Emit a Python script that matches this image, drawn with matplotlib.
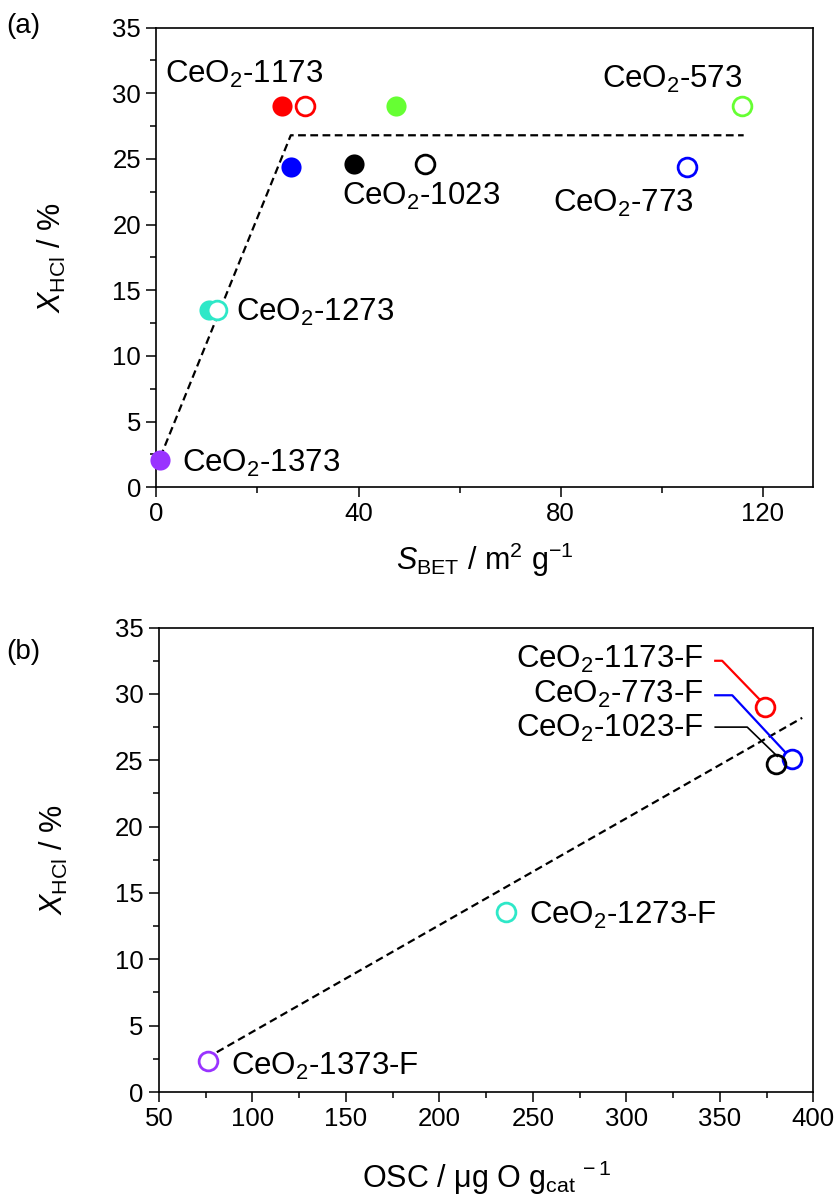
import numpy as np
import matplotlib
matplotlib.use("Agg")
import matplotlib.pyplot as plt
from matplotlib.ticker import MultipleLocator

plt.rcParams['font.family'] = ['Liberation Sans', 'DejaVu Sans']
plt.rcParams['mathtext.fontset'] = 'custom'
plt.rcParams['mathtext.rm'] = 'Liberation Sans'
plt.rcParams['mathtext.it'] = 'Liberation Sans:italic'

# ---- panel (a): conversion vs BET surface area ----
sbet_filled = [24.9, 47.4, 26.7, 39.1, 10.5, 0.7]
x_filled = [29.0, 29.0, 24.4, 24.6, 13.5, 2.1]
sbet_open = [29.5, 115.8, 105.0, 53.2, 12.0]
x_open = [29.0, 29.0, 24.4, 24.6, 13.5]
col_filled = ['#ff0000', '#66ff33', '#0000ff', '#000000', '#2ee8c8', '#9933ff']
col_open = ['#ff0000', '#66ff33', '#0000ff', '#000000', '#2ee8c8']
trend_a_x = [0.8, 26.6, 116.2]
trend_a_y = [2.3, 26.8, 26.8]
labels_a = ['1173', '1023', '573', '773', '1273', '1373']
labels_a_pos = [(1.8, 30.8), (36.8, 21.5), (88.2, 30.4), (78.5, 21.0), (15.8, 12.7), (5.0, 1.2)]

# ---- panel (b): conversion vs OSC ----
osc = [374.3, 388.7, 380.2, 235.5, 76.3]
x_osc = [29.0, 25.1, 24.7, 13.6, 2.3]
col_b = ['#ff0000', '#0000ff', '#000000', '#2ee8c8', '#9933ff']
labels_b = ['1173', '773', '1023', '1273', '1373']
trend_b_x = [81.0, 394.0]
trend_b_y = [3.0, 28.2]

fig = plt.figure(figsize=(8.36, 12), dpi=100)
ax1 = fig.add_axes([0.187, 0.594, 0.786, 0.383])
ax2 = fig.add_axes([0.190, 0.090, 0.783, 0.387])

def style(ax):
    for s in ax.spines.values():
        s.set_linewidth(1.2)
    ax.tick_params(which='both', direction='out', top=False, right=False,
                   labelsize=18.5, width=1.1, pad=4)
    ax.tick_params(which='major', length=7)
    ax.tick_params(which='minor', length=4.5)
    ax.set_ylim(0, 35)
    ax.yaxis.set_major_locator(MultipleLocator(5))
    ax.yaxis.set_minor_locator(MultipleLocator(2.5))

# panel a
ax1.plot(trend_a_x, trend_a_y, ls=(0, (3.5, 2)), color='black', lw=1.6, zorder=1)
for x, y, c in zip(sbet_filled, x_filled, col_filled):
    ax1.plot(x, y, 'o', ms=14.5, color=c, mew=0, clip_on=False, zorder=3)
for x, y, c in zip(sbet_open, x_open, col_open):
    ax1.plot(x, y, 'o', ms=13.5, mfc='white', mec=c, mew=2.0, zorder=3)
for lab, (x, y) in zip(labels_a, labels_a_pos):
    ax1.text(x, y, 'CeO$_2$-' + lab, fontsize=22.5, va='baseline', ha='left')
style(ax1)
ax1.set_xlim(0, 130)
ax1.xaxis.set_major_locator(MultipleLocator(40))
ax1.xaxis.set_minor_locator(MultipleLocator(20))
ax1.set_xlabel(r'$S_{\mathrm{BET}}$ / m$^2$ g$^{-1}$', fontsize=22, labelpad=10)
ax1.set_ylabel(r'$X_{\mathrm{HCl}}$ / %', fontsize=22, labelpad=32)
fig.text(0.008, 0.978, '(a)', fontsize=20, va='center')

# panel b
ax2.plot(trend_b_x, trend_b_y, ls=(0, (3.5, 2)), color='black', lw=1.6, zorder=1)
for x, y, c in zip(osc, x_osc, col_b):
    ax2.plot(x, y, 'o', ms=13.5, mfc='none', mec=c, mew=2.0, zorder=3)

# labels with leader lines for the crowded upper right cluster
lead_txt = [(341.2, 32.0), (341.2, 29.3), (341.2, 26.8)]
lead_lines = [
    ([347.5, 351.2, 371.1], [32.5, 32.5, 29.6]),
    ([347.5, 356.6, 385.0], [29.9, 29.9, 25.6]),
    ([347.5, 364.6, 380.7], [27.5, 27.5, 25.3]),
]
lead_lw = [1.6, 1.6, 1.2]
for i in range(3):
    lx, ly = lead_lines[i]
    ax2.plot(lx, ly, color=col_b[i], lw=lead_lw[i], zorder=2)
    ax2.text(lead_txt[i][0], lead_txt[i][1], 'CeO$_2$-' + labels_b[i] + '-F',
             fontsize=22.5, va='baseline', ha='right')
ax2.text(247.8, 12.7, 'CeO$_2$-1273-F', fontsize=22.5, va='baseline', ha='left')
ax2.text(88.6, 1.3, 'CeO$_2$-1373-F', fontsize=22.5, va='baseline', ha='left')

style(ax2)
ax2.set_xlim(50, 400)
ax2.xaxis.set_major_locator(MultipleLocator(50))
ax2.xaxis.set_minor_locator(MultipleLocator(25))
ax2.set_xlabel(r'OSC / $\mathrm{\mu}$g O g$_{\mathrm{cat}}$$^{\,-1}$', fontsize=22, labelpad=20)
ax2.set_ylabel(r'$X_{\mathrm{HCl}}$ / %', fontsize=22, labelpad=32)
fig.text(0.008, 0.457, '(b)', fontsize=20, va='center')

fig.savefig('out.png', dpi=100)
